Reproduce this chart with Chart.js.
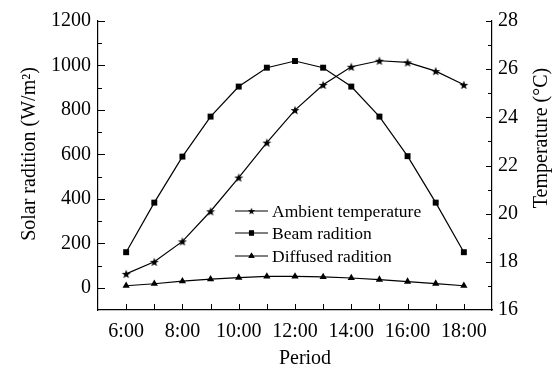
<!DOCTYPE html>
<html>
<head>
<meta charset="utf-8">
<script src="https://cdn.jsdelivr.net/npm/chart.js@4/dist/chart.umd.min.js"></script>
<style>
  html, body { margin: 0; padding: 0; background: #fff; }
  #wrap { width: 553px; height: 370px; position: relative; }
</style>
</head>
<body>
<div id="wrap"><canvas id="solarChart"></canvas></div>
<script>
// Hourly readings, 6:00 to 18:00
const hours = [6, 7, 8, 9, 10, 11, 12, 13, 14, 15, 16, 17, 18];
const ambientTemp = [17.5, 18.0, 18.85, 20.1, 21.5, 22.95, 24.3, 25.35, 26.1, 26.35, 26.28, 25.92, 25.35];
const beamRadiation = [160, 383, 590, 770, 905, 990, 1020, 990, 905, 770, 592, 383, 160];
const diffusedRadiation = [9, 18, 30, 39, 46, 51, 51, 49, 44, 37, 28, 19, 9];
const seriesLabels = ['Ambient temperature', 'Beam radition', 'Diffused radition'];

const FONT = '"Liberation Serif", "DejaVu Serif", serif';

// filled five-point star used as the marker for temperature
function makeStar(size) {
    const c = document.createElement('canvas');
    c.width = size; c.height = size;
    const g = c.getContext('2d');
    const cx = size / 2, cy = size / 2 + 0.5;
    const outer = size / 2 - 0.3, inner = outer * 0.42;
    g.beginPath();
    for (let i = 0; i < 10; i++) {
        const r = i % 2 === 0 ? outer : inner;
        const a = -Math.PI / 2 + i * Math.PI / 5;
        const px = cx + r * Math.cos(a), py = cy + r * Math.sin(a);
        if (i === 0) g.moveTo(px, py); else g.lineTo(px, py);
    }
    g.closePath();
    g.fillStyle = '#000';
    g.fill();
    return c;
}
const starMarker = makeStar(10);

const toPoints = (vals) => vals.map((v, i) => ({ x: hours[i], y: v }));

// inward tick marks, long on labelled ticks, short on the rest
const innerTicks = {
    id: 'innerTicks',
    afterDraw(chart) {
        const ctx = chart.ctx;
        const area = chart.chartArea;
        ctx.save();
        ctx.strokeStyle = '#000';
        ctx.lineWidth = 1;
        ctx.beginPath();
        const sx = chart.scales.x;
        sx.ticks.forEach(t => {
            if (t.value <= sx.min || t.value >= sx.max) return;
            const px = Math.round(sx.getPixelForValue(t.value)) + 0.5;
            ctx.moveTo(px, area.bottom);
            ctx.lineTo(px, area.bottom - 6);
        });
        const sy = chart.scales.y;
        sy.ticks.forEach(t => {
            if (t.value <= sy.min) return;
            const py = Math.round(sy.getPixelForValue(t.value)) + 0.5;
            const len = t.label ? 7 : 4;
            ctx.moveTo(area.left, py);
            ctx.lineTo(area.left + len, py);
        });
        const sy1 = chart.scales.y1;
        sy1.ticks.forEach(t => {
            if (t.value <= sy1.min) return;
            const py = Math.round(sy1.getPixelForValue(t.value)) + 0.5;
            const len = t.label ? 6 : 4;
            ctx.moveTo(area.right, py);
            ctx.lineTo(area.right - len, py);
        });
        ctx.stroke();
        ctx.restore();
    }
};

// axis titles placed as in the original figure
const axisTitles = {
    id: 'axisTitles',
    afterDraw(chart) {
        const ctx = chart.ctx;
        ctx.save();
        ctx.fillStyle = '#000';
        ctx.font = '20px ' + FONT;
        ctx.textAlign = 'center';
        ctx.textBaseline = 'middle';
        ctx.fillText('Period', 305, 359);
        ctx.translate(30, 154);
        ctx.rotate(-Math.PI / 2);
        ctx.fillText('Solar radition (W/m\u00B2)', 0, 0);
        ctx.restore();
        ctx.save();
        ctx.fillStyle = '#000';
        ctx.font = '20px ' + FONT;
        ctx.textAlign = 'center';
        ctx.textBaseline = 'middle';
        ctx.translate(542, 138);
        ctx.rotate(-Math.PI / 2);
        ctx.fillText('Temperature (\u00B0C)', 0, 0);
        ctx.restore();
    }
};

// line + marker legend inside the plot
const insideLegend = {
    id: 'insideLegend',
    afterDraw(chart) {
        const ctx = chart.ctx;
        const x0 = 235, x1 = 268, rowY = [211, 233, 256];
        ctx.save();
        chart.data.datasets.forEach((ds, i) => {
            const y = rowY[i];
            ctx.strokeStyle = '#000';
            ctx.lineWidth = 1.2;
            ctx.beginPath();
            ctx.moveTo(x0, y);
            ctx.lineTo(x1, y);
            ctx.stroke();
            const mx = (x0 + x1) / 2;
            if (ds.pointStyle instanceof HTMLCanvasElement) {
                ctx.drawImage(ds.pointStyle, mx - 4, y - 4, 8, 8);
            } else {
                Chart.helpers.drawPoint(ctx, {
                    pointStyle: ds.pointStyle, radius: 3.6, rotation: 0, borderWidth: 0
                }, mx, y);
                ctx.fillStyle = '#000';
                ctx.fill();
            }
            ctx.fillStyle = '#000';
            ctx.font = '17.5px ' + FONT;
            ctx.textAlign = 'left';
            ctx.textBaseline = 'middle';
            ctx.fillText(ds.label, 272, y + 1);
        });
        ctx.restore();
    }
};

new Chart(document.getElementById('solarChart').getContext('2d'), {
    type: 'line',
    data: {
        datasets: [
            {
                label: seriesLabels[0],
                data: toPoints(ambientTemp),
                yAxisID: 'y1',
                borderColor: '#000',
                borderWidth: 1.2,
                pointStyle: starMarker,
                pointRadius: 5,
                backgroundColor: '#000'
            },
            {
                label: seriesLabels[1],
                data: toPoints(beamRadiation),
                yAxisID: 'y',
                borderColor: '#000',
                borderWidth: 1.2,
                pointStyle: 'rect',
                pointRadius: 4.2,
                pointBorderWidth: 0,
                backgroundColor: '#000'
            },
            {
                label: seriesLabels[2],
                data: toPoints(diffusedRadiation),
                yAxisID: 'y',
                borderColor: '#000',
                borderWidth: 1.2,
                pointStyle: 'triangle',
                pointRadius: 4.2,
                pointBorderWidth: 0,
                backgroundColor: '#000'
            }
        ]
    },
    options: {
        responsive: true,
        maintainAspectRatio: false,
        animation: false,
        layout: { padding: { top: 21, right: 0, bottom: 0, left: 0 } },
        plugins: {
            legend: { display: false },
            tooltip: { enabled: false }
        },
        scales: {
            x: {
                type: 'linear',
                min: 5,
                max: 19,
                afterFit: (s) => { s.height = 60; },
                border: { display: true, color: '#000', width: 1.2 },
                grid: { drawOnChartArea: false, drawTicks: false },
                ticks: {
                    stepSize: 1,
                    autoSkip: false,
                    maxRotation: 0,
                    padding: 10,
                    color: '#000',
                    font: { family: FONT, size: 20 },
                    callback: (v) => (v >= 6 && v <= 18 && v % 2 === 0) ? v + ':00' : ''
                }
            },
            y: {
                position: 'left',
                min: -100,
                max: 1200,
                afterFit: (s) => { s.width = 98; },
                border: { display: true, color: '#000', width: 1.2 },
                grid: { drawOnChartArea: false, drawTicks: false },
                ticks: {
                    stepSize: 100,
                    autoSkip: false,
                    padding: 7,
                    color: '#000',
                    font: { family: FONT, size: 20 },
                    callback: (v) => (v >= 0 && v % 200 === 0) ? String(v) : ''
                }
            },
            y1: {
                position: 'right',
                min: 16,
                max: 28,
                afterFit: (s) => { s.width = 61; },
                border: { display: true, color: '#000', width: 1.2 },
                grid: { drawOnChartArea: false, drawTicks: false },
                ticks: {
                    stepSize: 1,
                    autoSkip: false,
                    padding: 6,
                    color: '#000',
                    font: { family: FONT, size: 20 },
                    callback: (v) => v % 2 === 0 ? String(v) : ''
                }
            }
        }
    },
    plugins: [innerTicks, axisTitles, insideLegend]
});
</script>
</body>
</html>
